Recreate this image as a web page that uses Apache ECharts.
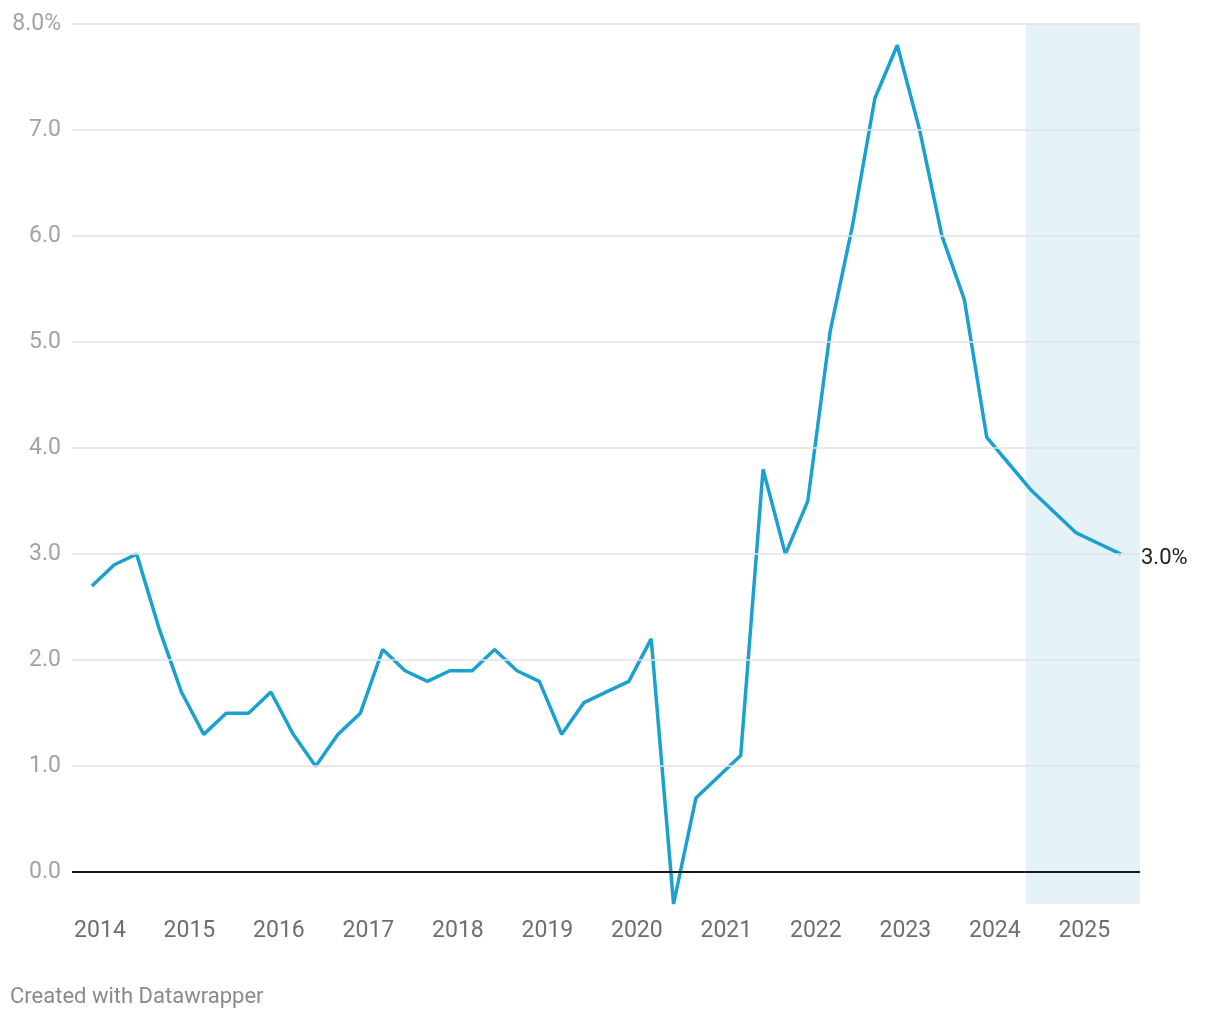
<!DOCTYPE html>
<html>
<head>
<meta charset="utf-8">
<script src="https://cdn.jsdelivr.net/npm/echarts@6/dist/echarts.min.js"></script>
<style>
  html, body { margin: 0; padding: 0; background: #fff; }
  #chart { width: 1220px; height: 1020px; }
  .credit {
    position: absolute; left: 10px; top: 983px;
    font-family: Roboto, sans-serif; font-size: 22px; color: #8a8a8a;
  }
</style>
</head>
<body>
<div id="chart"></div>
<div class="credit">Created with Datawrapper</div>
<script>
// quarterly values, 2014 Q1 .. 2025 Q3
const inflation = [
  2.7, 2.9, 3.0, 2.3,
  1.7, 1.3, 1.5, 1.5,
  1.7, 1.3, 1.0, 1.3,
  1.5, 2.1, 1.9, 1.8,
  1.9, 1.9, 2.1, 1.9,
  1.8, 1.3, 1.6, 1.7,
  1.8, 2.2, -0.3, 0.7,
  0.9, 1.1, 3.8, 3.0,
  3.5, 5.1, 6.1, 7.3,
  7.8, 7.0, 6.0, 5.4,
  4.1, 3.85, 3.6, 3.4,
  3.2, 3.1, 3.0
]
const years = ['2014', '2015', '2016', '2017', '2018', '2019', '2020', '2021', '2022', '2023', '2024', '2025']
const yTicks = [0, 1, 2, 3, 4, 5, 6, 7, 8]
const gridValues = [1, 2, 3, 4, 5, 6, 7, 8]
const forecastStart = 41.75 // quarter index where shaded band begins

const font = 'Roboto, sans-serif'
const chart = echarts.init(document.getElementById('chart'))

const option = {
  animation: false,
  grid: { left: 72, right: 80, top: 24, bottom: 116 },
  xAxis: {
    type: 'value',
    min: -0.89,
    max: 46.85,
    splitLine: { show: false },
    axisLine: { show: false },
    axisTick: { show: false },
    axisLabel: {
      customValues: years.map((y, i) => i * 4 + 0.36),
      formatter: v => years[Math.round((v - 0.36) / 4)],
      color: '#6e6e6e',
      fontSize: 23,
      fontFamily: font,
      margin: 16
    }
  },
  yAxis: {
    type: 'value',
    min: -0.3,
    max: 8,
    splitLine: { show: false },
    axisLine: { show: false },
    axisTick: { show: false },
    axisLabel: {
      customValues: yTicks,
      formatter: v => v === 8 ? '8.0%' : v.toFixed(1),
      color: '#a3a3a3',
      fontSize: 23,
      fontFamily: font,
      margin: 11
    }
  },
  series: [
    {
      type: 'line',
      data: [],
      z: 0,
      markArea: {
        silent: true,
        itemStyle: { color: '#e5f3f9' },
        data: [[{ xAxis: forecastStart }, { xAxis: 'max' }]]
      }
    },
    {
      type: 'line',
      data: [],
      z: 1,
      markLine: {
        silent: true,
        symbol: 'none',
        label: { show: false },
        data: gridValues.map(v => ({ yAxis: v, lineStyle: { color: '#e2e2e2', width: 1.5, type: 'solid' } }))
          .concat([{ yAxis: 0, lineStyle: { color: '#1a1a1a', width: 2, type: 'solid' } }])
      }
    },
    {
      type: 'line',
      z: 3,
      data: inflation.map((v, i) => [i, v]),
      symbol: 'none',
      lineStyle: { color: '#1ba1cf', width: 3.5 },
      endLabel: {
        show: true,
        formatter: v => v.value[1].toFixed(1) + '%',
        color: '#222',
        fontSize: 22,
        fontFamily: font,
        distance: 20,
        offset: [0, 4]
      }
    }
  ]
}
chart.setOption(option)
</script>
</body>
</html>
